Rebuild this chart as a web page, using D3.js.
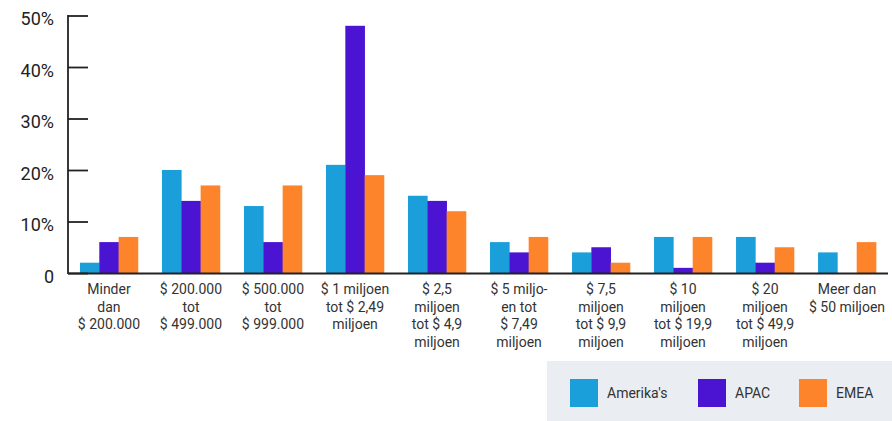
<!DOCTYPE html>
<html>
<head>
<meta charset="utf-8">
<script src="https://cdn.jsdelivr.net/npm/d3@7"></script>
<style>
  html, body { margin: 0; padding: 0; background: #fff; }
  svg { display: block; }
</style>
</head>
<body>
<svg id="chart" width="892" height="421"></svg>
<script>
// Omzetklassen (regels gescheiden door \n)
const categories = [
  "Minder\ndan\n$ 200.000",
  "$ 200.000\ntot\n$ 499.000",
  "$ 500.000\ntot\n$ 999.000",
  "$ 1 miljoen\ntot $ 2,49\nmiljoen",
  "$ 2,5\nmiljoen\ntot $ 4,9\nmiljoen",
  "$ 5 miljo-\nen tot\n$ 7,49\nmiljoen",
  "$ 7,5\nmiljoen\ntot $ 9,9\nmiljoen",
  "$ 10\nmiljoen\ntot $ 19,9\nmiljoen",
  "$ 20\nmiljoen\ntot $ 49,9\nmiljoen",
  "Meer dan\n$ 50 miljoen"
];
const seriesNames = ["Amerika's", "APAC", "EMEA"];
const amerikas = [2, 20, 13, 21, 15, 6, 4, 7, 7, 4];
const apac     = [6, 14, 6, 48, 14, 4, 5, 1, 2, 0];
const emea     = [7, 17, 17, 19, 12, 7, 2, 7, 5, 6];
const yTicks = [0, 10, 20, 30, 40, 50];
const colors = ["#1a9fda", "#4b13d2", "#fe842c"];

const seriesValues = [amerikas, apac, emea];
const rows = categories.map((c, i) => ({
  category: c,
  values: seriesNames.map((s, j) => ({ series: s, value: seriesValues[j][i] }))
}));

const svg = d3.select("#chart");
const plotLeft = 68, plotRight = 888, plotTop = 15.5, plotBottom = 273;
const fontText = "Roboto, 'DejaVu Sans', sans-serif";

const x0 = d3.scaleBand().domain(categories).range([plotLeft, plotRight])
  .paddingInner(0.293).paddingOuter(0.146);
const x1 = d3.scaleBand().domain(seriesNames).range([0, x0.bandwidth()]);
const y = d3.scaleLinear().domain([0, 50]).range([plotBottom, plotTop]);
const color = d3.scaleOrdinal().domain(seriesNames).range(colors);

// Staven
const groups = svg.append("g").selectAll("g").data(rows).join("g")
  .attr("transform", d => `translate(${x0(d.category)},0)`);
groups.selectAll("rect").data(d => d.values).join("rect")
  .attr("x", d => x1(d.series))
  .attr("width", x1.bandwidth() + 0.3)
  .attr("y", d => y(d.value))
  .attr("height", d => y(0) - y(d.value))
  .attr("fill", d => color(d.series));

// Y-as met naar binnen wijzende streepjes
const yAxis = d3.axisLeft(y).tickValues(yTicks).tickSize(-20).tickPadding(14)
  .tickFormat(d => d === 0 ? "0" : d + "%");
const gy = svg.append("g").attr("transform", `translate(${plotLeft},0)`).call(yAxis);
gy.select(".domain").remove();
gy.selectAll(".tick line").attr("stroke", "#222").attr("stroke-width", 1.8);
gy.selectAll(".tick text")
  .attr("font-family", fontText).attr("font-size", 18).attr("fill", "#222")
  .attr("dy", "0.5em");

svg.append("line").attr("x1", plotLeft).attr("x2", plotLeft)
  .attr("y1", plotTop - 0.5).attr("y2", plotBottom + 1)
  .attr("stroke", "#222").attr("stroke-width", 1.8);

// X-as
const xAxis = d3.axisBottom(x0).tickSize(0).tickFormat("");
const gx = svg.append("g").attr("transform", `translate(0,${plotBottom})`).call(xAxis);
gx.select(".domain").attr("stroke", "#222").attr("stroke-width", 1.8)
  .attr("d", `M${plotLeft},0.5H${plotRight}`);

// Categorielabels over meerdere regels
gx.selectAll(".tick").each(function(d) {
  const t = d3.select(this).select("text")
    .attr("y", 0).attr("dy", null)
    .attr("font-family", fontText).attr("font-size", 14).attr("fill", "#333")
    .attr("text-anchor", "middle");
  t.text(null);
  d.split("\n").forEach((line, i) => {
    t.append("tspan").attr("x", 0).attr("y", 21 + i * 17.5).text(line);
  });
});

// Legenda
const legend = svg.append("g");
legend.append("rect").attr("x", 547).attr("y", 361).attr("width", 345).attr("height", 60)
  .attr("fill", "#eaedf2");
const legendX = [570, 698, 799];
const items = legend.selectAll("g.item").data(seriesNames).join("g").attr("class", "item")
  .attr("transform", (d, i) => `translate(${legendX[i]},379)`);
items.append("rect").attr("width", 28).attr("height", 28).attr("fill", d => color(d));
items.append("text").attr("x", 37).attr("y", 14).attr("dy", "0.35em")
  .attr("font-family", fontText).attr("font-size", 14).attr("fill", "#333")
  .text(d => d);
</script>
</body>
</html>
